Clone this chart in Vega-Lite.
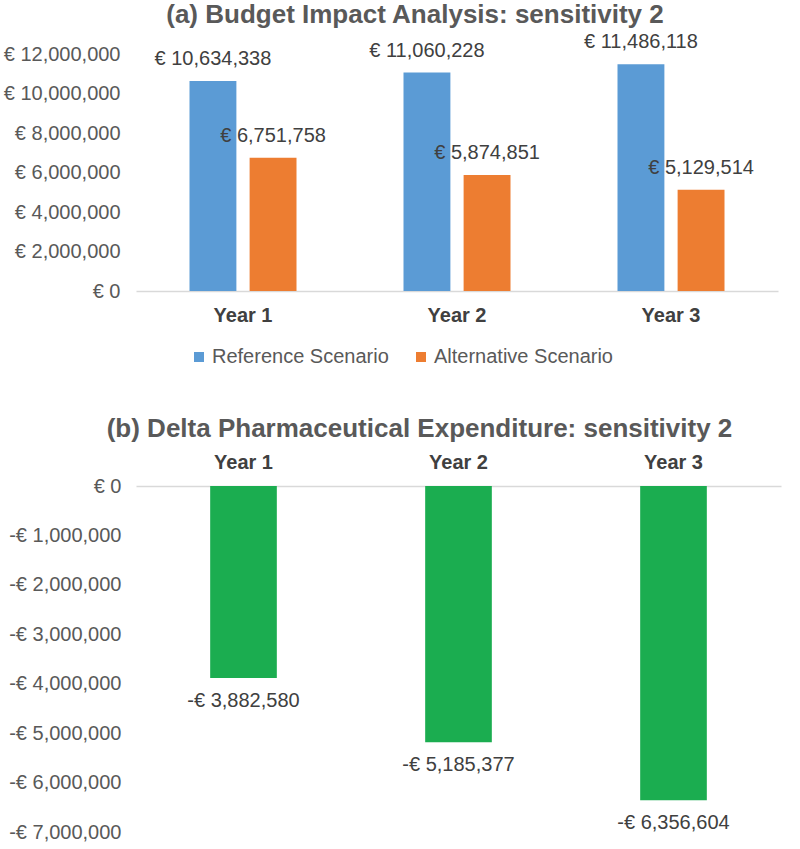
{
  "$schema": "https://vega.github.io/schema/vega-lite/v6.json",
  "background": "white",
  "padding": {"left": 3, "top": 2, "right": 20, "bottom": 5},
  "spacing": 91,
  "config": {
    "locale": {"number": {"decimal": ".", "thousands": ",", "grouping": [3], "currency": ["€ ", ""], "minus": "-"}},
    "font": "Liberation Sans",
    "view": {"stroke": null},
    "axis": {"labelFont": "Liberation Sans", "labelColor": "#595959", "labelFontSize": 20, "ticks": false, "grid": false, "title": null},
    "title": {"font": "Liberation Sans", "fontSize": 26, "fontWeight": "bold", "color": "#595959", "anchor": "middle"}
  },
  "vconcat": [
    {
      "title": {"text": "(a) Budget Impact Analysis: sensitivity 2", "offset": 4, "dx": -42},
      "width": 642,
      "height": 237,
      "data": {"values": [
        {"year": "Year 1", "scenario": "Reference Scenario", "value": 10634338},
        {"year": "Year 1", "scenario": "Alternative Scenario", "value": 6751758},
        {"year": "Year 2", "scenario": "Reference Scenario", "value": 11060228},
        {"year": "Year 2", "scenario": "Alternative Scenario", "value": 5874851},
        {"year": "Year 3", "scenario": "Reference Scenario", "value": 11486118},
        {"year": "Year 3", "scenario": "Alternative Scenario", "value": 5129514}
      ]},
      "encoding": {
        "x": {"field": "year", "type": "nominal", "sort": null,
              "scale": {"paddingInner": 0.5, "paddingOuter": 0.25},
              "axis": {"labelAngle": 0, "labelFontWeight": "bold", "labelColor": "#404040", "labelPadding": 14, "domainColor": "#D9D9D9", "domainWidth": 1.5}},
        "xOffset": {"field": "scenario", "type": "nominal", "sort": ["Reference Scenario", "Alternative Scenario"],
                    "scale": {"paddingInner": 0.22, "paddingOuter": 0}},
        "y": {"field": "value", "type": "quantitative",
              "scale": {"domain": [0, 12000000], "nice": false},
              "axis": {"values": [0, 2000000, 4000000, 6000000, 8000000, 10000000, 12000000], "format": "$,.0f", "domain": false, "labelPadding": 16}}
      },
      "layer": [
        {
          "mark": {"type": "bar"},
          "encoding": {
            "color": {"field": "scenario", "type": "nominal", "sort": ["Reference Scenario", "Alternative Scenario"],
                      "scale": {"domain": ["Reference Scenario", "Alternative Scenario"], "range": ["#5B9BD5", "#ED7D31"]},
                      "legend": {"title": null, "orient": "none", "direction": "horizontal", "legendX": 53, "legendY": 293,
                                 "symbolType": "square", "symbolSize": 100, "symbolStrokeWidth": 0, "labelFontSize": 20, "labelColor": "#595959", "labelFont": "Liberation Sans", "labelLimit": 0, "columnPadding": 22, "labelOffset": 3}}
          }
        },
        {
          "mark": {"type": "text", "baseline": "bottom", "dy": -12, "fontSize": 20, "color": "#404040"},
          "encoding": {"text": {"field": "value", "type": "quantitative", "format": "$,.0f"}}
        }
      ]
    },
    {
      "title": {"text": "(b) Delta Pharmaceutical Expenditure: sensitivity 2", "offset": 10, "dx": -39},
      "width": 645,
      "height": 346,
      "data": {"values": [
        {"year": "Year 1", "delta": -3882580},
        {"year": "Year 2", "delta": -5185377},
        {"year": "Year 3", "delta": -6356604}
      ]},
      "encoding": {
        "x": {"field": "year", "type": "nominal", "sort": null,
              "scale": {"paddingInner": 0.69, "paddingOuter": 0.345},
              "axis": {"orient": "top", "labelAngle": 0, "labelFontWeight": "bold", "labelColor": "#404040", "labelPadding": 14, "domainColor": "#D9D9D9", "domainWidth": 1.5}},
        "y": {"field": "delta", "type": "quantitative",
              "scale": {"domain": [-7000000, 0], "nice": false},
              "axis": {"values": [0, -1000000, -2000000, -3000000, -4000000, -5000000, -6000000, -7000000], "format": "$,.0f", "domain": false, "labelPadding": 15}}
      },
      "layer": [
        {"mark": {"type": "bar", "color": "#1BAD50"}},
        {
          "mark": {"type": "text", "baseline": "top", "dy": 13, "fontSize": 20, "color": "#404040"},
          "encoding": {"text": {"field": "delta", "type": "quantitative", "format": "$,.0f"}}
        }
      ]
    }
  ]
}
